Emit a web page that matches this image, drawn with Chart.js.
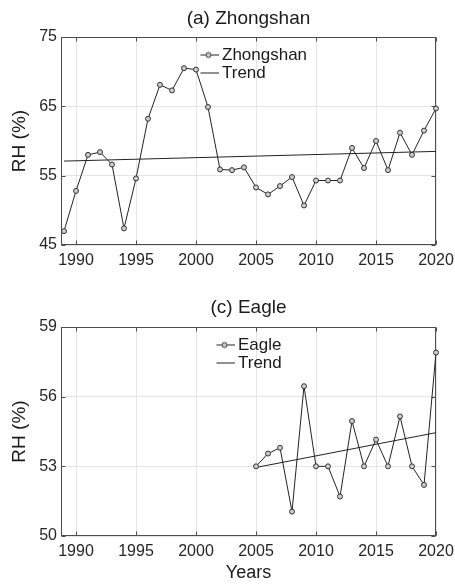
<!DOCTYPE html>
<html>
<head>
<meta charset="utf-8">
<script src="https://cdn.jsdelivr.net/npm/chart.js@4"></script>
<style>
  body { margin: 0; background: #fff; }
  canvas { position: absolute; left: 0; }
  #top { top: 0; }
  #bottom { top: 280px; }
</style>
</head>
<body>
<canvas id="top" width="455" height="280"></canvas>
<canvas id="bottom" width="455" height="308"></canvas>
<script>
// yearly mean relative humidity, two stations
const zsYears = [1989, 1990, 1991, 1992, 1993, 1994, 1995, 1996, 1997, 1998, 1999, 2000,
                 2001, 2002, 2003, 2004, 2005, 2006, 2007, 2008, 2009, 2010, 2011, 2012,
                 2013, 2014, 2015, 2016, 2017, 2018, 2019, 2020];
const zsRH = [47.0, 52.8, 58.0, 58.4, 56.6, 47.4, 54.6, 63.2, 68.1, 67.3, 70.5, 70.3,
              64.9, 55.9, 55.8, 56.2, 53.3, 52.3, 53.5, 54.8, 50.7, 54.3, 54.3, 54.3,
              59.0, 56.1, 60.0, 55.8, 61.2, 58.0, 61.5, 64.7];
const zsTrendYears = [1989, 2020];
const zsTrend = [57.1, 58.5];

const egYears = [2005, 2006, 2007, 2008, 2009, 2010, 2011, 2012,
                 2013, 2014, 2015, 2016, 2017, 2018, 2019, 2020];
const egRH = [53.0, 53.55, 53.8, 51.05, 56.45, 53.0, 53.0, 51.7,
              54.95, 53.0, 54.15, 53.0, 55.15, 53.0, 52.2, 57.9];
const egTrendYears = [2005, 2020];
const egTrend = [52.95, 54.45];

const yearTicks = [1990, 1995, 2000, 2005, 2010, 2015, 2020];
const zsTicks = [45, 55, 65, 75];
const egTicks = [50, 53, 56, 59];

Chart.defaults.font.family = "'Liberation Sans', Arial, sans-serif";
Chart.defaults.color = '#262626';

const pairs = (xs, ys) => xs.map((x, i) => ({x: x, y: ys[i]}));

// legend glyphs: a line with a circle marker, and a plain line
function glyph(withMarker) {
  const c = document.createElement('canvas');
  c.width = 23; c.height = 9;
  const g = c.getContext('2d');
  g.strokeStyle = '#222';
  g.lineWidth = 1;
  g.beginPath();
  g.moveTo(2, 4.5);
  g.lineTo(23, 4.5);
  g.stroke();
  if (withMarker) {
    g.fillStyle = '#ccc';
    g.strokeStyle = '#333';
    g.beginPath();
    g.arc(12.5, 4.5, 2.5, 0, Math.PI * 2);
    g.fill();
    g.stroke();
  }
  return c;
}
const glyphs = [glyph(true), glyph(false)];

// box around the plot area with short inward tick marks
const frame = {
  id: 'frame',
  beforeDatasetsDraw(chart) {
    const {ctx, chartArea: a, scales} = chart;
    ctx.save();
    ctx.strokeStyle = '#4d4d4d';
    ctx.lineWidth = 1;
    const L = Math.round(a.left) + 0.5, R = Math.round(a.right) - 0.5;
    const T = Math.round(a.top) + 0.5, B = Math.round(a.bottom) - 0.5;
    ctx.strokeRect(L, T, R - L, B - T);
    ctx.beginPath();
    scales.x.ticks.forEach(t => {
      const px = Math.round(scales.x.getPixelForValue(t.value)) + 0.5;
      ctx.moveTo(px, B); ctx.lineTo(px, B - 4);
      ctx.moveTo(px, T); ctx.lineTo(px, T + 4);
    });
    scales.y.ticks.forEach(t => {
      const py = Math.round(scales.y.getPixelForValue(t.value)) + 0.5;
      ctx.moveTo(L, py); ctx.lineTo(L + 4, py);
      ctx.moveTo(R, py); ctx.lineTo(R - 4, py);
    });
    ctx.stroke();
    ctx.restore();
  }
};

// put the in-plot legend where it belongs
const legendPlace = {
  id: 'legendPlace',
  afterLayout(chart, args, opts) {
    const lg = chart.legend;
    if (!lg) return;
    lg.left = opts.left;
    lg.top = opts.top;
    lg.width = 170;
    lg.height = 50;
    lg.right = opts.left + 170;
    lg.bottom = opts.top + 50;
  }
};

function makeChart(id, o) {
  return new Chart(document.getElementById(id), {
    type: 'line',
    data: {
      datasets: [{
        label: o.name,
        data: pairs(o.years, o.values),
        borderColor: '#222',
        borderWidth: 1,
        pointRadius: 2.5,
        pointBorderWidth: 1,
        pointBorderColor: '#333',
        pointBackgroundColor: '#ccc',
        tension: 0,
        clip: false
      }, {
        label: 'Trend',
        data: pairs(o.trendYears, o.trend),
        borderColor: '#222',
        borderWidth: 1,
        pointRadius: 0,
        tension: 0,
        clip: false
      }]
    },
    options: {
      responsive: false,
      animation: false,
      events: [],
      layout: { padding: { left: 0, right: 19, top: 0, bottom: 0 } },
      plugins: {
        title: {
          display: true,
          text: o.title,
          fullSize: false,
          color: '#1a1a1a',
          font: { size: 19, weight: 'normal' },
          padding: o.titlePad
        },
        legend: {
          position: 'chartArea',
          align: 'start',
          labels: {
            usePointStyle: true,
            pointStyleWidth: 12,
            padding: 1,
            color: '#1a1a1a',
            font: { size: 17 },
            generateLabels(chart) {
              const items = Chart.defaults.plugins.legend.labels.generateLabels(chart);
              items.forEach((it, i) => { it.pointStyle = glyphs[i]; });
              return items;
            }
          }
        },
        legendPlace: o.legendAt,
        tooltip: { enabled: false }
      },
      scales: {
        x: {
          type: 'linear',
          min: 1988.75,
          max: 2020,
          afterBuildTicks(scale) { scale.ticks = yearTicks.map(v => ({value: v})); },
          afterFit(scale) {
            scale.height = o.xHeight;
            scale.paddingLeft = 0;
            scale.paddingRight = 0;
          },
          ticks: { font: { size: 16 }, padding: 6, maxRotation: 0, callback: v => String(v) },
          grid: { color: '#e6e6e6', drawTicks: false },
          border: { display: false },
          title: {
            display: !!o.xTitle,
            text: o.xTitle || '',
            color: '#1a1a1a',
            font: { size: 18 },
            padding: { top: 0, bottom: 4.2 }
          }
        },
        y: {
          min: o.yTicks[0],
          max: o.yTicks[o.yTicks.length - 1],
          afterBuildTicks(scale) { scale.ticks = o.yTicks.map(v => ({value: v})); },
          afterFit(scale) {
            scale.width = 61;
            scale.paddingTop = 0;
            scale.paddingBottom = 0;
          },
          ticks: { font: { size: 16 }, padding: 4 },
          grid: { color: '#e6e6e6', drawTicks: false },
          border: { display: false },
          title: {
            display: true,
            text: 'RH (%)',
            color: '#1a1a1a',
            font: { size: 19 },
            padding: { top: 8.1, bottom: 0 }
          }
        }
      }
    },
    plugins: [frame, legendPlace]
  });
}

makeChart('top', {
  name: 'Zhongshan',
  title: '(a) Zhongshan',
  years: zsYears, values: zsRH,
  trendYears: zsTrendYears, trend: zsTrend,
  yTicks: zsTicks,
  titlePad: { top: 7.1, bottom: 7.1 },
  xHeight: 35,
  legendAt: { left: 200.5, top: 45.5 }
});

makeChart('bottom', {
  name: 'Eagle',
  title: '(c) Eagle',
  years: egYears, values: egRH,
  trendYears: egTrendYears, trend: egTrend,
  yTicks: egTicks,
  titlePad: { top: 16.1, bottom: 8.1 },
  xHeight: 52,
  xTitle: 'Years',
  legendAt: { left: 216.5, top: 55.5 }
});
</script>
</body>
</html>
